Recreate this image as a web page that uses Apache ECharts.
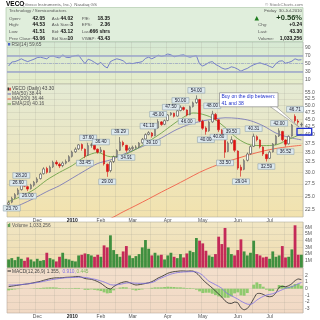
<!DOCTYPE html>
<html><head><meta charset="utf-8">
<script src="https://cdn.jsdelivr.net/npm/echarts@6.0.0/dist/echarts.min.js"></script>
<style>html,body{margin:0;padding:0;background:#fff}#c{width:320px;height:320px}</style>
</head><body><div id="c"></div><script>
// ---- data (2-trading-day bars, Nov 2009 - 30 Jul 2010) ----
const opens = [23.5,23.9,24.7,25.4,26.3,27.7,26.9,26.5,27.2,27.9, 28.6,29.7,30.9,30.1,31.3,32.4,31.9,31.6,32.2,32.7, 33.9,35.1,35.9,37.1,35.8,34.2,36.9,36.9,35.8,35.1, 35.4,31.9,30.4,32.6,33.9,35.5,37.7,36.9,35.6,36.0, 36.3,36.5,37.6,38.7,40.1,40.5,39.7,42.1,44.1,43.3, 44.6,46.6,47.1,46.1,48.1,49.2,48.3,46.6,49.6,51.1, 52.3,44.3,42.1,41.2,44.1,46.7,44.8,41.4,39.3,35.2, 37.6,38.3,35.3,31.2,30.7,32.9,34.6,36.6,39.4,38.4, 36.4,34.4,33.4,35.1,37.3,39.6,41.0,38.4,37.3,39.6, 46.0,44.4,43.1];
const closes = [23.8,24.6,25.3,26.2,27.8,27.0,26.4,27.2,27.8,28.5, 29.6,30.8,30.0,31.2,32.4,32.0,31.5,32.2,32.6,33.8, 35.0,35.8,37.0,36.0,34.0,36.8,37.0,35.8,35.0,35.6, 32.0,30.2,32.5,33.8,35.4,37.8,37.0,35.5,36.0,36.3, 36.4,37.5,38.6,40.0,40.6,39.6,42.0,44.2,43.2,44.5, 46.5,47.2,46.0,48.0,49.3,48.5,46.5,49.5,51.0,52.5, 44.5,42.0,41.0,44.0,46.8,45.0,41.5,39.5,35.0,37.5, 38.5,35.5,31.0,30.5,32.8,34.5,36.5,39.5,38.5,36.5, 34.5,33.3,35.0,37.2,39.5,41.2,38.5,37.2,39.5,43.0, 44.5,44.0,43.3];
const lows = [23.2,23.7,24.5,25.2,26.1,26.8,26.0,26.3,26.9,27.6, 28.4,29.5,29.7,29.9,31.0,31.6,31.0,31.2,31.9,32.5, 33.6,34.8,35.6,35.4,33.45,34.0,36.2,35.5,34.6,34.8, 31.6,29.0,30.0,32.2,33.6,35.3,36.5,34.91,35.2,35.6, 35.9,36.2,37.3,38.5,39.8,39.1,39.5,41.8,42.8,43.0, 44.3,46.2,45.6,45.9,47.8,48.0,46.0,46.4,49.2,50.6, 44.0,41.5,40.0,40.9,43.8,44.6,40.8,38.9,33.5,35.0, 37.2,35.0,30.6,29.04,30.5,32.6,34.3,36.4,38.0,36.0, 34.0,32.59,33.2,34.9,37.0,39.3,38.0,36.52,37.1,39.4, 43.8,43.2,42.5];
const highs = [24.2,24.9,25.6,26.6,28.2,28.0,27.1,27.5,28.1,28.9, 29.9,31.2,31.3,31.6,32.8,32.9,32.3,32.6,33.1,34.2, 35.4,36.3,37.2,37.4,36.0,37.6,37.6,37.1,36.0,36.4, 35.6,32.1,32.8,34.1,35.8,39.29,38.2,37.0,36.5,36.8, 36.9,37.8,39.0,40.4,41.1,40.8,42.4,45.0,44.4,44.9, 46.8,47.5,47.3,48.4,50.0,49.6,48.5,49.9,51.5,54.0, 52.6,44.8,42.6,44.5,48.0,47.2,45.0,41.8,39.5,38.0, 39.5,38.5,35.5,31.8,33.2,34.9,36.9,40.31,39.8,38.6, 36.6,34.6,35.4,37.5,39.9,42.0,41.2,38.6,39.8,43.4, 46.71,45.0,43.9];
const volumes = [1.2,1.4,1.1,1.6,1.3,1.0,1.5,1.2,0.9,1.3, 1.0,1.1,2.2,1.4,1.2,0.9,1.6,2.2,1.3,1.2, 1.0,0.9,1.8,1.9,2.1,2.0,1.8,1.6,1.9,1.6, 3.3,3.0,4.8,2.6,2.0,1.6,2.4,3.2,1.8,1.4, 1.7,2.0,3.0,4.1,2.8,1.8,2.2,1.8,1.9,1.2, 1.8,2.2,1.6,1.4,2.0,1.5,2.1,2.5,2.3,4.4, 4.0,3.6,2.5,1.8,1.6,2.0,4.6,3.5,5.9,3.0, 2.0,1.8,2.6,4.2,2.4,1.8,2.2,4.0,2.0,1.8, 1.5,1.6,1.3,2.4,1.6,1.8,3.2,1.5,1.6,2.7, 6.3,1.9,1.9];
const rsi = [44,54,55,58,62,58,55,58,61,65, 66,64,62,68,69,66,64,72,66,65, 68,70,71,60,50,61,58,53,48,53, 44,39,55,59,62,60,57,50,51,50, 52,53,55,63,66,62,66,71,68,70, 74,72,67,69,71,72,68,66,68,70, 49,44,48,53,55,48,44,39,36,38, 42,40,36,31,35,38,43,47,50,52, 49,47,43,40,50,56,57,51,53,56, 62,59,59.65];
const macd = [0.30,0.38,0.45,0.52,0.60,0.66,0.72,0.80,0.90,1.00, 1.10,1.25,1.38,1.50,1.58,1.62,1.62,1.65,1.70,1.72, 1.75,1.80,1.82,1.70,1.52,1.45,1.40,1.25,1.05,0.80, 0.45,0.10,-0.05,0.30,0.60,0.82,0.98,1.05,0.90,0.70, 0.55,0.60,0.68,0.78,0.88,1.05,1.30,1.60,1.80,2.05, 2.30,2.45,2.55,2.60,2.65,2.65,2.62,2.65,2.62,2.35, 1.90,1.35,0.90,0.50,0.10,-0.35,-0.80,-1.25,-1.80,-2.15, -2.20,-2.00,-2.10,-2.85,-3.15,-2.95,-2.35,-1.50,-0.75,-0.70, -0.85,-1.10,-1.20,-1.10,-0.60,0.20,0.35,0.30,0.45,0.75, 1.20,1.45,1.355];
const signal = [0.55,0.55,0.56,0.58,0.62,0.66,0.72,0.78,0.85,0.92, 1.00,1.10,1.20,1.30,1.38,1.45,1.52,1.58,1.63,1.65, 1.67,1.69,1.71,1.72,1.68,1.62,1.50,1.42,1.30,1.15, 1.00,0.80,0.60,0.55,0.58,0.65,0.75,0.85,0.88,0.85, 0.82,0.80,0.79,0.80,0.85,0.92,1.10,1.40,1.60,1.80, 2.00,2.18,2.30,2.40,2.45,2.50,2.52,2.54,2.55,2.50, 2.30,2.00,1.50,1.10,0.85,0.60,0.35,0.05,-0.45,-0.80, -1.05,-1.30,-1.55,-1.85,-2.10,-2.30,-2.35,-2.10,-1.70,-1.40, -1.15,-0.95,-0.85,-0.75,-0.55,-0.35,-0.15,0.05,0.18,0.30, 0.50,0.75,0.91];
const hist = [-0.25,-0.17,-0.11,-0.06,-0.02,0,0,0.02,0.05,0.08, 0.10,0.15,0.18,0.20,0.20,0.17,0.10,0.07,0.07,0.07, 0.08,0.11,0.11,-0.02,-0.16,-0.17,-0.10,-0.17,-0.25,-0.35, -0.55,-0.70,-0.65,-0.25,0.02,0.17,0.23,0.20,0.02,-0.15, -0.27,-0.20,-0.11,-0.02,0.03,0.13,0.20,0.20,0.20,0.25, 0.30,0.27,0.25,0.20,0.20,0.15,0.10,0.11,0.07,-0.15, -0.40,-0.65,-0.60,-0.60,-0.75,-0.95,-1.15,-1.30,-1.35,-1.35, -1.15,-0.70,-0.55,-1.00,-1.05,-0.65,0.00,0.60,0.95,0.70, 0.30,-0.15,-0.35,-0.35,-0.05,0.55,0.50,0.25,0.27,0.45, 0.70,0.70,0.445];
const ema20 = [[0,24.0],[4,25.0],[8,26.3],[12,28.3],[16,30.0],[20,31.6],[24,33.8],[28,34.9],[32,33.8],[36,34.2],[40,35.8],[44,38.0],[48,40.5],[50,42.0],[54,45.0],[58,47.2],[60,47.0],[64,45.5],[68,42.3],[72,38.8],[76,37.0],[80,36.8],[84,37.0],[88,38.6],[92,40.2]];
const sma50 = [[0,22.5],[4,23.5],[8,24.6],[12,25.9],[16,27.1],[20,28.7],[24,30.4],[28,32.1],[32,33.0],[36,34.4],[40,35.8],[44,37.3],[48,39.0],[52,41.2],[56,43.0],[60,44.2],[64,45.0],[68,45.5],[72,45.3],[76,44.5],[80,42.8],[84,40.5],[88,39.2],[92,38.44]];
const sma200 = [[28,20.5],[32,21.1],[36,22.2],[40,23.3],[44,24.5],[48,25.8],[52,27.1],[56,28.5],[60,30.0],[64,31.3],[68,32.4],[72,33.4],[76,34.4],[80,35.3],[84,36.0],[88,36.5],[92,36.9]];
// price annotations: [bar, value, above/below]
const annotations = [[1,23.7,'b'],[3,26.6,'a'],[4,28.2,'a'],[6,26.0,'b'],[24,33.45,'b'],[25,37.6,'a'],[29,36.4,'a'],[31,29.0,'b'],[35,39.29,'a'],[37,34.91,'b'],[44,41.1,'a'],[45,39.1,'b'],[47,45.0,'a'],[51,47.5,'a'],[54,50.0,'a'],[56,46.0,'b'],[59,54.0,'a'],[62,40.0,'b'],[64,48.0,'a'],[66,40.8,'b'],[68,33.5,'b'],[70,39.5,'a'],[73,29.04,'b'],[77,40.31,'a'],[81,32.59,'b'],[85,42.0,'a'],[87,36.52,'b'],[90,46.71,'a']];
// ticks
const monthIdx = [9,20,29,39,50,61,72,82];
const monthLabels = ['Dec','2010','Feb','Mar','Apr','May','Jun','Jul'];
const midIdx = [4,15,25,34,45,56,66,77,87];
const priceTicks = [22.5,25,27.5,30,32.5,35,37.5,40,42.5,45,47.5,50,52.5,55];
const rsiTicks = [10,30,50,70,90];
const volTicks = [1,2,3,4,5,6];
const macdTicks = [-3,-2,-1,0,1,2];

// ---- chart ----
const F = 'Liberation Sans, Arial, sans-serif';
const GL = 'rgba(150,150,140,0.35)';
const cats = closes.map((_, i) => String(i));
const vIdx = monthIdx.concat(midIdx);
const L = Math.log;
const chart = echarts.init(document.getElementById('c'));
const grad = (a, b) => new echarts.graphic.LinearGradient(0, 0, 0, 1, [{offset: 0, color: a}, {offset: 1, color: b}]);
const LEFT = 7, W = 296;
const grids = [
  {left: LEFT, top: 42, width: W, height: 42, show: true, backgroundColor: grad('#d6e9d4', '#e6ecca'), borderColor: '#aab4a8', borderWidth: 0.6},
  {left: LEFT, top: 84, width: W, height: 133, show: true, backgroundColor: grad('#e4ead4', '#f2e2ae'), borderColor: '#b4b09a', borderWidth: 0.6},
  {left: LEFT, top: 222, width: W, height: 45.5, show: true, backgroundColor: grad('#f1e6c4', '#efdcae'), borderColor: '#b4b09a', borderWidth: 0.6},
  {left: LEFT, top: 268, width: W, height: 45, show: true, backgroundColor: grad('#f3dfcc', '#f1d9c4'), borderColor: '#b8aa9c', borderWidth: 0.6}
];
function xa(g, show) {
  return {type: 'category', gridIndex: g, data: cats, boundaryGap: true,
    axisLine: {show: false}, axisTick: {show: false},
    axisLabel: {show: show, interval: (i) => monthIdx.indexOf(i) >= 0,
      formatter: (v, i) => { const k = monthIdx.indexOf(i); if (k < 0) return ''; return k === 1 ? '{b|' + monthLabels[k] + '}' : monthLabels[k]; },
      fontSize: 5, color: '#555', margin: 1, fontFamily: F,
      rich: {b: {fontWeight: 'bold', fontSize: 5, color: '#222', fontFamily: F}}},
    splitLine: {show: true, interval: (i) => vIdx.indexOf(i) >= 0, lineStyle: {color: GL, width: 0.5}}};
}
function ya(g, min, max, ticks, fmt) {
  return {type: 'value', gridIndex: g, position: 'right', min: min, max: max,
    axisLine: {show: false}, axisTick: {show: false, customValues: ticks},
    axisLabel: {customValues: ticks, formatter: fmt, fontSize: 5, color: '#555', margin: 2, fontFamily: F},
    splitLine: {show: true, lineStyle: {color: GL, width: 0.5}}};
}
const ohlc = opens.map((o, i) => [L(o), L(closes[i]), L(lows[i]), L(highs[i])]);
const lnPairs = (arr) => arr.map(p => [p[0], L(p[1])]);

function txt(x, y, s, size, color, bold, align) {
  return {type: 'text', x: x, y: y, silent: true, z: 120,
    style: {text: s, font: (bold ? 'bold ' : '') + size + 'px ' + F, fill: color,
      align: align || 'left', textAlign: align || 'left', verticalAlign: 'middle', textVerticalAlign: 'middle'}};
}
function hline(x1, x2, y, color, w) {
  return {type: 'line', silent: true, z: 100, shape: {x1: x1, y1: y, x2: x2, y2: y}, style: {stroke: color, lineWidth: w || 1}};
}
const LBL = '#555', VAL = '#111';
const rows = [11, 18.3, 25, 31.7, 38.3];
const LS = 4.4, VS = 5;
const graphics = [
  txt(6, 4.5, 'VECO', 6.5, '#000', true),
  txt(23, 4.7, '(Veeco Instruments, Inc.)  Nasdaq GS', 4.4, '#666'),
  txt(303, 4.7, '© StockCharts.com', 4.4, '#777', false, 'right'),
  {type: 'rect', silent: true, z: 90, shape: {x: 6, y: 7.5, width: 297, height: 34}, style: {fill: '#e0eedc', stroke: '#a6c4a2', lineWidth: 0.6}},
  txt(9, rows[0], 'Technology / Semiconductors', LS, '#555'),
  txt(302, rows[0], 'Friday  30-Jul-2010', LS, '#555', false, 'right'),
  txt(9, rows[1], 'Open:', LS, LBL), txt(45, rows[1], '42.05', VS, VAL, true, 'right'),
  txt(51.7, rows[1], 'Ask:', LS, LBL), txt(73, rows[1], '44.02', VS, VAL, true, 'right'),
  txt(81.7, rows[1], 'P/E:', LS, LBL), txt(110, rows[1], '18.35', VS, VAL, true, 'right'),
  txt(9, rows[2], 'High:', LS, LBL), txt(45, rows[2], '44.53', VS, VAL, true, 'right'),
  txt(51.7, rows[2], 'Ask Size:', LS, LBL), txt(73, rows[2], '3', VS, VAL, true, 'right'),
  txt(81.7, rows[2], 'EPS:', LS, LBL), txt(110, rows[2], '2.36', VS, VAL, true, 'right'),
  txt(9, rows[3], 'Low:', LS, LBL), txt(45, rows[3], '41.51', VS, VAL, true, 'right'),
  txt(51.7, rows[3], 'Bid:', LS, LBL), txt(73, rows[3], '43.12', VS, VAL, true, 'right'),
  txt(81.7, rows[3], 'Last:', LS, LBL), txt(110, rows[3], '666 shrs', VS, VAL, true, 'right'),
  txt(9, rows[4], 'Prev Close:', LS, LBL), txt(45, rows[4], '43.06', VS, VAL, true, 'right'),
  txt(51.7, rows[4], 'Bid Size:', LS, LBL), txt(73, rows[4], '10', VS, VAL, true, 'right'),
  txt(81.7, rows[4], 'VWAP:', LS, LBL), txt(110, rows[4], '43.43', VS, VAL, true, 'right'),
  {type: 'polygon', silent: true, z: 100, shape: {points: [[254.5, 20.6], [259, 20.6], [256.75, 16]]}, style: {fill: '#1e7d1e'}},
  txt(302, rows[1], '+0.56%', 7.5, '#1a3a1a', true, 'right'),
  txt(258, rows[2], 'Chg:', LS, LBL), txt(302, rows[2], '+0.24', VS, VAL, true, 'right'),
  txt(258, rows[3], 'Last:', LS, LBL), txt(302, rows[3], '43.30', VS, VAL, true, 'right'),
  txt(258, rows[4], 'Volume:', LS, LBL), txt(302, rows[4], '1,033,256', VS, VAL, true, 'right'),
  // RSI label
  {type: 'rect', silent: true, z: 100, shape: {x: 8, y: 43, width: 2.2, height: 2.6}, style: {fill: '#4a63c8'}},
  txt(11.5, 44.6, 'RSI(14) 59.65', 4.8, '#555'),
  // price legend
  {type: 'rect', silent: true, z: 100, shape: {x: 7.6, y: 87.4, width: 1.3, height: 3.2}, style: {fill: '#222'}},
  {type: 'rect', silent: true, z: 100, shape: {x: 9.4, y: 87.8, width: 1.3, height: 2.8}, style: {fill: '#d01010'}},
  txt(12, 89, 'VECO (Daily) 43.30', 4.8, '#444'),
  hline(7.5, 11, 94, '#6f6fb8', 1), txt(12, 94, 'MA(50) 38.44', 4.8, '#555'),
  hline(7.5, 11, 99, '#f0604a', 1), txt(12, 99, 'MA(200) 36.44', 4.8, '#555'),
  hline(7.5, 11, 104, '#5f9a3a', 1), txt(12, 104, 'EMA(20) 40.16', 4.8, '#555'),
  // volume label
  {type: 'rect', silent: true, z: 100, shape: {x: 7.8, y: 224, width: 1, height: 3}, style: {fill: '#3f8f3f'}},
  {type: 'rect', silent: true, z: 100, shape: {x: 9.2, y: 223.2, width: 1, height: 3.8}, style: {fill: '#3f8f3f'}},
  txt(12, 225.7, 'Volume 1,033,256', 4.8, '#555'),
  // MACD label
  hline(7.5, 11, 271, '#222', 1),
  txt(12, 271.2, 'MACD(12,26,9) 1.355,', 4.8, '#444'),
  txt(62.5, 271.2, '0.910,', 4.8, '#7d6ee6'),
  txt(76.5, 271.2, '0.445', 4.8, '#79b85a'),
  // callout
  {type: 'polygon', silent: true, z: 110, shape: {points: [[270, 106.5], [276, 106.5], [299, 127]]}, style: {fill: '#ffffff', stroke: '#777', lineWidth: 0.5}},
  {type: 'rect', silent: true, z: 111, shape: {x: 219.5, y: 92.8, width: 58.5, height: 14}, style: {fill: '#ffffff', stroke: '#777', lineWidth: 0.6}},
  txt(221.5, 96.5, 'Buy on the dip between:', 5, '#2233cc'),
  txt(221.5, 103.2, '41 and 38', 5, '#2233cc'),
  {type: 'rect', silent: true, z: 112, shape: {x: 297, y: 128.3, width: 14.7, height: 6.7}, style: {fill: 'rgba(0,0,0,0)', stroke: '#1f2fd0', lineWidth: 1.3}}
];

const option = {
  animation: false,
  backgroundColor: '#ffffff',
  textStyle: {fontFamily: F},
  grid: grids,
  xAxis: [xa(0, false), xa(1, true), xa(2, false), xa(3, true)],
  yAxis: [
    ya(0, -1, 104, rsiTicks, (v) => String(v)),
    ya(1, 3.0604, 4.0757, priceTicks.map(L), (v) => Math.exp(v).toFixed(1)),
    ya(2, 0, 6.79, volTicks, (v) => v + 'M'),
    ya(3, -3.63, 3.09, macdTicks, (v) => String(v))
  ],
  graphic: graphics,
  series: [
    {type: 'line', name: 'RSI', xAxisIndex: 0, yAxisIndex: 0, data: rsi, symbol: 'none', z: 4,
      lineStyle: {color: '#5a64c8', width: 0.8},
      markLine: {silent: true, symbol: 'none', label: {show: false}, animation: false,
        data: [
          {yAxis: 70, lineStyle: {color: '#9ba5cb', width: 1.5, type: 'solid'}},
          {yAxis: 30, lineStyle: {color: '#9ba5cb', width: 1.5, type: 'solid'}},
          {yAxis: 50, lineStyle: {color: '#8f99c6', width: 0.6, type: [3, 1, 1, 1]}}
        ]}},
    {type: 'candlestick', name: 'VECO', xAxisIndex: 1, yAxisIndex: 1, data: ohlc, barWidth: 2, z: 3,
      itemStyle: {color: '#ffffff', color0: '#e01010', borderColor: '#4a4a4a', borderColor0: '#d01010', borderWidth: 0.6},
      markPoint: {silent: true, symbol: 'rect', symbolSize: [17, 5.6], animation: false,
        itemStyle: {color: '#dde9ee', borderColor: '#8ea2ad', borderWidth: 0.5},
        label: {show: true, position: 'inside', fontSize: 4.6, color: '#223', fontFamily: F, formatter: (p) => p.data.txt},
        data: annotations.map(a => ({coord: [a[0], L(a[1])], value: a[1], txt: a[1].toFixed(2), symbolOffset: [0, a[2] === 'a' ? -5 : 5]}))}},
    {type: 'line', name: 'MA(50)', xAxisIndex: 1, yAxisIndex: 1, data: lnPairs(sma50), smooth: 0.3, symbol: 'none', z: 2,
      lineStyle: {color: '#6f6fb8', width: 0.8}},
    {type: 'line', name: 'MA(200)', xAxisIndex: 1, yAxisIndex: 1, data: lnPairs(sma200), smooth: 0.3, symbol: 'none', z: 2,
      lineStyle: {color: '#f0604a', width: 0.9}},
    {type: 'line', name: 'EMA(20)', xAxisIndex: 1, yAxisIndex: 1, data: lnPairs(ema20), smooth: 0.3, symbol: 'none', z: 2,
      lineStyle: {color: '#5f9a3a', width: 0.8}},
    {type: 'bar', name: 'Volume', xAxisIndex: 2, yAxisIndex: 2, barCategoryGap: '12%',
      data: volumes.map((v, i) => ({value: v, itemStyle: {color: closes[i] < opens[i] ? '#c42a58' : '#3f8f3f'}}))},
    {type: 'bar', name: 'Hist', xAxisIndex: 3, yAxisIndex: 3, data: hist, barCategoryGap: '10%',
      itemStyle: {color: '#8fca6e'}},
    {type: 'line', name: 'MACD', xAxisIndex: 3, yAxisIndex: 3, data: macd, symbol: 'none', smooth: 0.2,
      lineStyle: {color: '#222', width: 0.8}},
    {type: 'line', name: 'Signal', xAxisIndex: 3, yAxisIndex: 3, data: signal, symbol: 'none', smooth: 0.2,
      lineStyle: {color: '#7d6ee6', width: 0.8}}
  ]
};
chart.setOption(option);
</script></body></html>
